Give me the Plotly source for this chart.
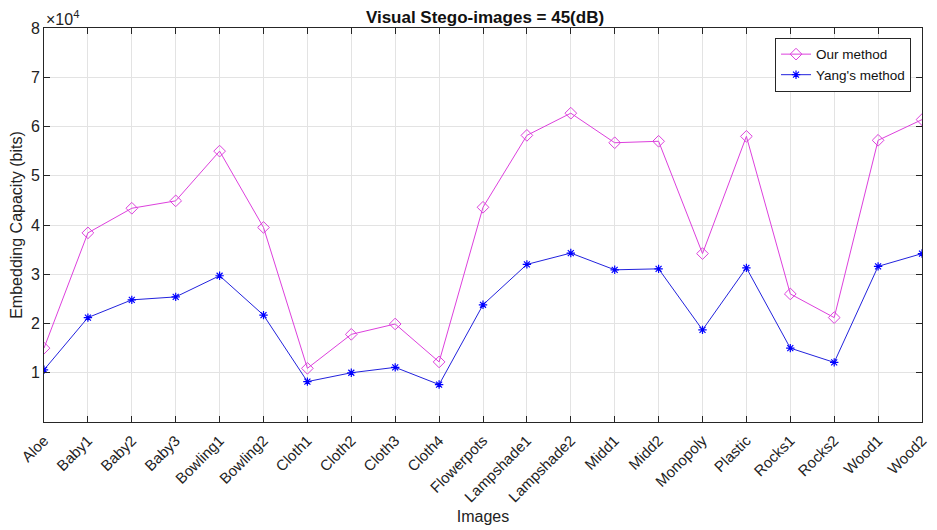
import plotly.graph_objects as go

categories = ["Aloe", "Baby1", "Baby2", "Baby3", "Bowling1", "Bowling2", "Cloth1", "Cloth2",
              "Cloth3", "Cloth4", "Flowerpots", "Lampshade1", "Lampshade2", "Midd1", "Midd2",
              "Monopoly", "Plastic", "Rocks1", "Rocks2", "Wood1", "Wood2"]
our_method = [15000, 38400, 43400, 44900, 55000, 39500, 10900, 17800, 19900, 12200, 43600,
              58200, 62700, 56700, 57000, 34200, 58000, 26000, 21200, 57200, 61400]
yang_method = [10600, 21200, 24800, 25400, 29700, 21700, 8200, 10000, 11100, 7600, 23800,
               32000, 34300, 30900, 31100, 18700, 31300, 15000, 12100, 31600, 34200]
y_tickvals = [10000, 20000, 30000, 40000, 50000, 60000, 70000, 80000]
y_ticktext = ["1", "2", "3", "4", "5", "6", "7", "8"]

FONT = "Liberation Sans, Arial, sans-serif"
AX = "#262626"

W, H = 929, 522  # page body has an 8px margin

fig = go.Figure()
fig.add_trace(go.Scatter(
    x=categories, y=our_method, mode="lines+markers", name="Our method",
    line=dict(color="#dd40dd", width=1),
    marker=dict(symbol="diamond-open", size=9, color="#dd40dd", line=dict(width=1)),
))
fig.add_trace(go.Scatter(
    x=categories, y=yang_method, mode="lines+markers", name="Yang's method",
    line=dict(color="#2222dd", width=1),
    marker=dict(symbol="asterisk-open", size=7, color="#0000ff", line=dict(width=1.2, color="#0000ff")),
))

fig.update_layout(
    width=W, height=H,
    margin=dict(l=36, r=15, t=20, b=108, autoexpand=False),
    paper_bgcolor="white", plot_bgcolor="white",
    font=dict(family=FONT, color=AX, size=14),
    title=dict(text="<b>Visual Stego-images = 45(dB)</b>", x=477 / W, xanchor="center",
               yref="container", y=1 - 9 / H, yanchor="middle",
               font=dict(size=17, color="#111111")),
    showlegend=True,
    legend=dict(x=0.9875, y=0.975, xanchor="right", yanchor="top",
                bgcolor="white", bordercolor=AX, borderwidth=1,
                font=dict(size=13.5, color="#111111"), tracegroupgap=0),
    xaxis=dict(
        type="category", range=[0, 20], tickangle=-45, automargin=False,
        showgrid=True, gridcolor="#e3e3e3", gridwidth=1,
        ticks="inside", ticklen=6, tickcolor=AX, mirror="ticks",
        showline=True, linecolor=AX, linewidth=1, ticklabelstandoff=3,
        tickfont=dict(size=15, color="#222222"),
        title=dict(text="Images", font=dict(size=16, color="#222222"), standoff=6),
    ),
    yaxis=dict(
        range=[0, 80000], tickvals=y_tickvals, ticktext=y_ticktext, automargin=False,
        showgrid=True, gridcolor="#e3e3e3", gridwidth=1,
        ticks="inside", ticklen=6, tickcolor=AX, mirror="ticks",
        showline=True, linecolor=AX, linewidth=1, zeroline=False,
        tickfont=dict(size=16, color="#222222"),
        title=dict(text="Embedding Capacity (bits)", font=dict(size=16, color="#222222"), standoff=6),
    ),
    annotations=[dict(text="\u00d710<sup>4</sup>", xref="paper", yref="paper", x=0.0, y=1.0,
                      xanchor="left", yanchor="bottom", showarrow=False,
                      font=dict(size=16, color="#222222"), yshift=-2)],
)

fig.write_html("out.html")
